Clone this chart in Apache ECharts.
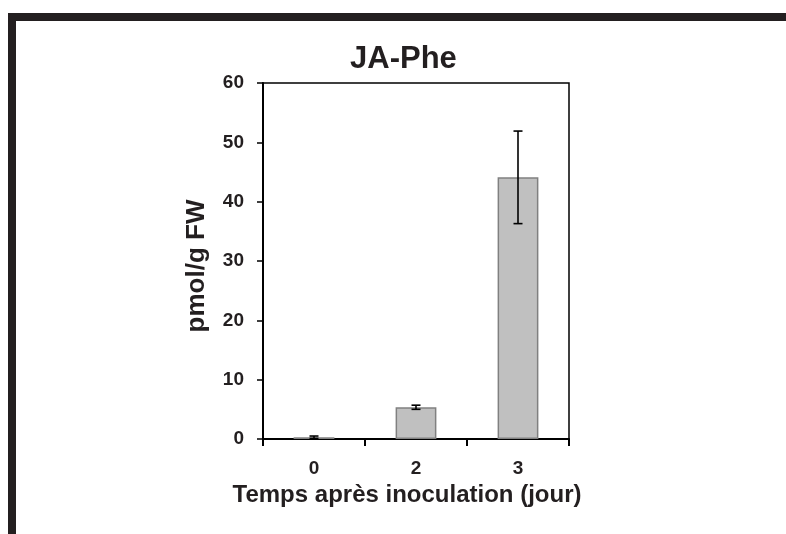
<!DOCTYPE html>
<html>
<head>
<meta charset="utf-8">
<title>JA-Phe</title>
<script src="https://cdn.jsdelivr.net/npm/echarts@6/dist/echarts.min.js"></script>
<style>
    html, body { margin: 0; padding: 0; background: #fff; }
    #main { width: 786px; height: 534px; }
</style>
</head>
<body>
<div id="main"></div>
<script>
var days = ['0', '2', '3'];
var means = [0.3, 5.35, 44.1];
var errors = [0.2, 0.35, 7.8];
var yTicks = [0, 10, 20, 30, 40, 50, 60];

var fontFam = '"Liberation Sans", Arial, sans-serif';
var ink = '#231f20';

var errData = [];
for (var i = 0; i < days.length; i++) {
    errData.push([i, means[i] - errors[i], means[i] + errors[i]]);
}

function renderErr(params, api) {
    var x = api.value(0);
    var lo = api.coord([x, api.value(1)]);
    var hi = api.coord([x, api.value(2)]);
    var cap = 4.5;
    var st = { stroke: '#000', lineWidth: 1.6 };
    return {
        type: 'group',
        children: [
            { type: 'line', shape: { x1: hi[0], y1: hi[1], x2: lo[0], y2: lo[1] }, style: st },
            { type: 'line', shape: { x1: hi[0] - cap, y1: hi[1], x2: hi[0] + cap, y2: hi[1] }, style: st },
            { type: 'line', shape: { x1: lo[0] - cap, y1: lo[1], x2: lo[0] + cap, y2: lo[1] }, style: st }
        ]
    };
}

var chart = echarts.init(document.getElementById('main'));
var option = {
    backgroundColor: '#fff',
    animation: false,
    textStyle: { fontFamily: fontFam },
    title: {
        text: 'JA-Phe',
        left: 350,
        top: 44,
        padding: 0,
        textStyle: { fontSize: 31, fontWeight: 'bold', color: ink, fontFamily: fontFam }
    },
    graphic: [
        { type: 'rect', shape: { x: 8, y: 13, width: 790, height: 8 }, style: { fill: ink } },
        { type: 'rect', shape: { x: 8, y: 13, width: 8, height: 530 }, style: { fill: ink } },
        {
            // y axis title, drawn by hand so it can sit a little below the middle
            type: 'text',
            x: 197,
            y: 266,
            rotation: Math.PI / 2,
            style: {
                text: 'pmol/g FW',
                fill: ink,
                font: 'bold 26px ' + fontFam,
                align: 'center',
                verticalAlign: 'middle'
            }
        }
    ],
    grid: {
        left: 263,
        top: 83,
        right: 217,
        bottom: 95,
        show: true,
        borderColor: '#000',
        borderWidth: 1.5,
        containLabel: false
    },
    xAxis: {
        type: 'category',
        data: days,
        boundaryGap: true,
        name: 'Temps après inoculation (jour)',
        nameLocation: 'middle',
        nameGap: 39,
        nameTextStyle: { fontSize: 24, fontWeight: 'bold', color: ink, padding: [0, 18, 0, 0] },
        axisLine: { lineStyle: { color: '#000', width: 2 } },
        axisTick: { show: true, inside: false, length: 7, interval: 0, lineStyle: { color: '#000', width: 2 } },
        axisLabel: { fontSize: 19, fontWeight: 'bold', color: ink, margin: 20 },
        splitLine: { show: false }
    },
    yAxis: {
        type: 'value',
        min: yTicks[0],
        max: yTicks[yTicks.length - 1],
        interval: 10,
        axisLine: { show: true, lineStyle: { color: '#000', width: 2 } },
        axisTick: { show: true, inside: false, length: 6, lineStyle: { color: '#000', width: 1.5 } },
        axisLabel: { fontSize: 19, fontWeight: 'bold', color: ink, margin: 19 },
        splitLine: { show: false }
    },
    series: [
        {
            type: 'bar',
            data: means,
            barWidth: '40%',
            itemStyle: { color: '#c0c0c0', borderColor: '#808080', borderWidth: 1.5 }
        },
        {
            type: 'custom',
            data: errData,
            renderItem: renderErr,
            z: 5
        }
    ]
};
chart.setOption(option);
</script>
</body>
</html>
